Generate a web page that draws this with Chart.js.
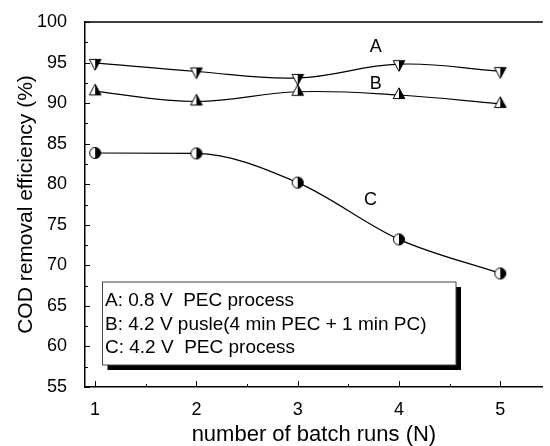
<!DOCTYPE html>
<html><head><meta charset="utf-8">
<script src="https://cdn.jsdelivr.net/npm/chart.js@4"></script>
<style>html,body{margin:0;padding:0;background:#fff;overflow:hidden}canvas{display:block}</style>
</head><body>
<canvas id="c" width="550" height="446"></canvas>
<script>
// ---- data ----
const batchRuns = [1, 2, 3, 4, 5];
const seriesA = [94.95, 93.9, 93.1, 94.8, 93.95];
const seriesB = [91.45, 90.2, 91.4, 91.0, 89.9];
const seriesC = [83.85, 83.8, 80.2, 73.2, 69.0];
const xTickValues = [1, 2, 3, 4, 5];
const yTickValues = [55, 60, 65, 70, 75, 80, 85, 90, 95, 100];
const legendLines = ['A: 0.8 V  PEC process', 'B: 4.2 V pusle(4 min PEC + 1 min PC)', 'C: 4.2 V  PEC process'];
const curveNames = ['A', 'B', 'C'];
const xTitle = 'number of batch runs (N)';
const yTitle = 'COD removal efficiency (%)';

// ---- annotation placement (data coords) ----
const curveNamePos = [[3.77, 96.9], [3.77, 92.4], [3.72, 78.0]];

const FONT = "'Liberation Sans', Arial, Helvetica, sans-serif";

function marker(kind) {
  const s = 20, c = s / 2;
  const cv = document.createElement('canvas');
  cv.width = s; cv.height = s;
  const g = cv.getContext('2d');
  g.lineWidth = 1; g.strokeStyle = '#000';
  const half = (pts, col) => { g.fillStyle = col; g.beginPath(); g.moveTo(pts[0][0], pts[0][1]); for (let i = 1; i < pts.length; i++) g.lineTo(pts[i][0], pts[i][1]); g.closePath(); g.fill(); };
  if (kind === 'down' || kind === 'up') {
    const w = 5.8, h = 10.8;
    let t, b;
    if (kind === 'down') { t = c - h / 3; b = c + 2 * h / 3;
      half([[c - w, t], [c, t], [c, b]], '#fff');
      half([[c, t], [c + w, t], [c, b]], '#000');
      g.beginPath(); g.moveTo(c - w, t); g.lineTo(c + w, t); g.lineTo(c, b); g.closePath(); g.stroke();
    } else { t = c - 2 * h / 3; b = c + h / 3;
      half([[c, t], [c, b], [c - w, b]], '#fff');
      half([[c, t], [c + w, b], [c, b]], '#000');
      g.beginPath(); g.moveTo(c, t); g.lineTo(c + w, b); g.lineTo(c - w, b); g.closePath(); g.stroke();
    }
  } else {
    const r = 5.5;
    g.fillStyle = '#fff'; g.beginPath(); g.arc(c, c, r, Math.PI / 2, Math.PI * 1.5); g.closePath(); g.fill();
    g.fillStyle = '#000'; g.beginPath(); g.arc(c, c, r, -Math.PI / 2, Math.PI / 2); g.closePath(); g.fill();
    g.beginPath(); g.arc(c, c, r, 0, Math.PI * 2); g.stroke();
  }
  return cv;
}

const decor = {
  id: 'decor',
  afterDraw(chart) {
    const { ctx, chartArea: a, scales: { x, y } } = chart;
    ctx.save();
    ctx.strokeStyle = '#000';
    // top frame line
    ctx.lineWidth = 1.5;
    ctx.beginPath(); ctx.moveTo(a.left, a.top); ctx.lineTo(a.right, a.top); ctx.stroke();
    // inward ticks
    ctx.lineWidth = 1;
    const yv = [];
    yTickValues.forEach((v, i) => { yv.push([v, 5]); if (i < yTickValues.length - 1) yv.push([(v + yTickValues[i + 1]) / 2, 3]); });
    yv.forEach(([v, len]) => { const py = Math.round(y.getPixelForValue(v)) + 0.5; ctx.beginPath(); ctx.moveTo(a.left, py); ctx.lineTo(a.left + len, py); ctx.stroke(); });
    const xv = [];
    xTickValues.forEach((v, i) => { xv.push([v, 6]); if (i < xTickValues.length - 1) xv.push([(v + xTickValues[i + 1]) / 2, 3]); });
    xv.forEach(([v, len]) => { const px = Math.round(x.getPixelForValue(v)) + 0.5; ctx.beginPath(); ctx.moveTo(px, a.bottom); ctx.lineTo(px, a.bottom - len); ctx.stroke(); });
    // curve names
    ctx.fillStyle = '#000';
    ctx.font = '18px ' + FONT;
    ctx.textAlign = 'center'; ctx.textBaseline = 'middle';
    curveNames.forEach((t, i) => ctx.fillText(t, x.getPixelForValue(curveNamePos[i][0]), y.getPixelForValue(curveNamePos[i][1])));
    // legend box
    const bx = 102.5, by = 282, bw = 353.5, bh = 83, sh = 5;
    ctx.fillStyle = '#000';
    ctx.fillRect(bx + sh, by + sh, bw, bh);
    ctx.fillStyle = '#fff';
    ctx.fillRect(bx, by, bw, bh);
    ctx.strokeStyle = '#444'; ctx.lineWidth = 1;
    ctx.strokeRect(bx, by, bw, bh);
    ctx.fillStyle = '#000';
    ctx.font = '19px ' + FONT;
    ctx.textAlign = 'left'; ctx.textBaseline = 'middle';
    legendLines.forEach((t, i) => ctx.fillText(t, 105, 301 + i * 23.3));
    ctx.restore();
  }
};

const mk = (vals) => batchRuns.map((xv, i) => ({ x: xv, y: vals[i] }));

new Chart(document.getElementById('c'), {
  type: 'line',
  data: {
    datasets: [
      { label: 'A', data: mk(seriesA), borderColor: '#000', borderWidth: 1.2, tension: 0.4, pointStyle: marker('down'), pointRadius: 6, fill: false },
      { label: 'B', data: mk(seriesB), borderColor: '#000', borderWidth: 1.2, tension: 0.4, pointStyle: marker('up'), pointRadius: 6, fill: false },
      { label: 'C', data: mk(seriesC), borderColor: '#000', borderWidth: 1.2, cubicInterpolationMode: 'monotone', pointStyle: marker('circle'), pointRadius: 6, fill: false }
    ]
  },
  options: {
    responsive: false,
    animation: false,
    devicePixelRatio: 1,
    layout: { padding: { top: 22, left: 0, right: 0, bottom: 0 } },
    plugins: { legend: { display: false }, tooltip: { enabled: false } },
    scales: {
      x: {
        type: 'linear', min: 0.9, max: 5.42,
        afterBuildTicks: (s) => { s.ticks = xTickValues.map(v => ({ value: v })); },
        afterFit: (s) => { s.height = 59; },
        grid: { display: false },
        border: { display: true, color: '#000', width: 1.5 },
        ticks: { color: '#000', font: { family: FONT, size: 18 }, padding: 4, callback: (v) => String(v) },
        title: { display: true, text: xTitle, color: '#000', font: { family: FONT, size: 22, lineHeight: 1 }, padding: { top: 0, bottom: 0 } }
      },
      y: {
        type: 'linear', min: 55, max: 100,
        afterBuildTicks: (s) => { s.ticks = yTickValues.map(v => ({ value: v })); },
        afterFit: (s) => { s.width = 85; },
        grid: { display: false },
        border: { display: true, color: '#000', width: 1.5 },
        ticks: { color: '#000', font: { family: FONT, size: 18 }, padding: 10, callback: (v) => String(v) },
        title: { display: true, text: yTitle, color: '#000', font: { family: FONT, size: 21, lineHeight: 1 }, padding: { top: 16, bottom: 0 } }
      }
    }
  },
  plugins: [decor]
});
</script>
</body></html>
